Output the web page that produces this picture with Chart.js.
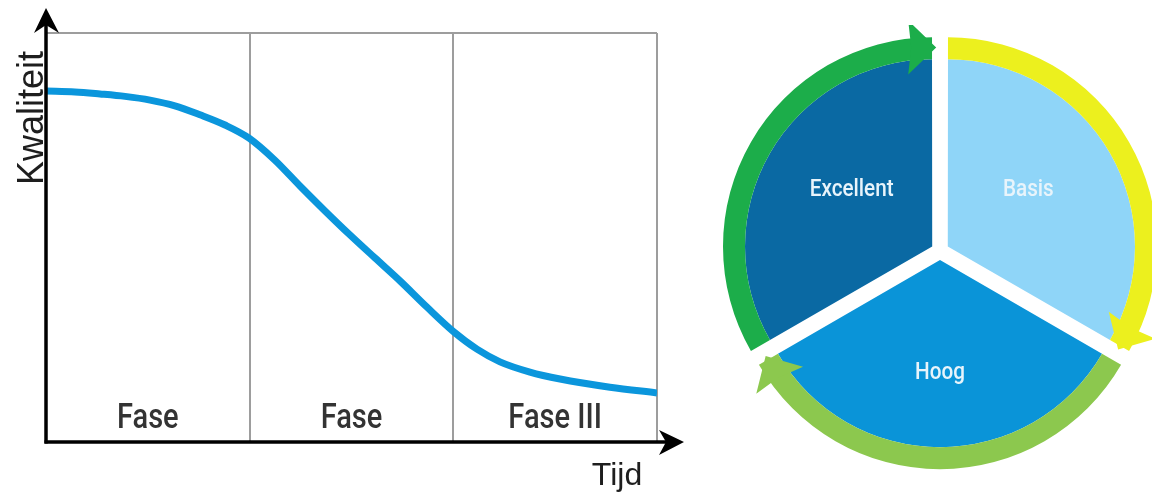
<!DOCTYPE html>
<html>
<head>
<meta charset="utf-8">
<script src="https://cdn.jsdelivr.net/npm/chart.js@4/dist/chart.umd.min.js"></script>
<style>
  html, body { margin: 0; padding: 0; background: #fff; width: 1152px; height: 497px; overflow: hidden; }
  #left  { position: absolute; left: 0; top: 0; width: 700px; height: 497px; }
  #right { position: absolute; left: 714px; top: 25px; width: 452px; height: 452px; }
</style>
</head>
<body>
<div id="left"><canvas id="qualityChart"></canvas></div>
<div id="right"><canvas id="levelChart"></canvas></div>
<script>
// Quality over time, split into three phases
const timePoints    = [0, 1.42, 2.65, 3.88, 5.11, 6.33, 7.56, 8.79, 9.97, 11.24, 12.47, 13.7,
                       14.93, 16.15, 17.38, 18.7, 20.03, 21.16, 22.29, 23.76, 25.24, 27.69, 30];
const qualityValues = [85.8, 85.6, 85.1, 84.5, 83.6, 82.2, 80.0, 77.5, 74.3, 68.9, 62.6, 56.5,
                       50.6, 45.0, 39.4, 33.0, 26.9, 22.7, 19.6, 17.1, 15.4, 13.4, 12.0];
const phaseBounds   = [0, 10, 20, 30];
const phaseLabels   = ['Fase', 'Fase', 'Fase III'];
const yAxisTitle    = 'Kwaliteit';
const xAxisTitle    = 'Tijd';

// Quality levels cycle (clockwise from the top)
const levelLabels = ['Basis', 'Hoog', 'Excellent'];
const levelShares = [1, 1, 1];
const levelColors = ['#8fd5f8', '#0a94d8', '#0a69a3'];
const cycleColors = ['#ecf01e', '#8cc84e', '#1cad4a'];

const condFont  = 'Roboto, "DejaVu Sans", sans-serif';
const plainFont = '"Liberation Sans", Arial, sans-serif';

// Text squeezed horizontally to get a condensed face
function condensedText(ctx, text, x, y, squeeze) {
  ctx.save();
  ctx.translate(x, y);
  ctx.scale(squeeze, 1);
  ctx.fillText(text, 0, 0);
  ctx.restore();
}

// Black axes with arrow heads, phase captions and axis titles
const axesPlugin = {
  id: 'axesDecor',
  afterDraw(chart) {
    const { ctx, chartArea: a, scales } = chart;
    ctx.save();
    ctx.strokeStyle = '#000';
    ctx.fillStyle = '#000';
    ctx.lineWidth = 3.5;
    ctx.lineCap = 'butt';
    // y axis
    ctx.beginPath();
    ctx.moveTo(a.left, a.bottom + 1.5);
    ctx.lineTo(a.left, a.top - 10);
    ctx.stroke();
    ctx.beginPath();
    ctx.moveTo(a.left, a.top - 25);
    ctx.lineTo(a.left + 13, a.top);
    ctx.lineTo(a.left, a.top - 8);
    ctx.lineTo(a.left - 12, a.top);
    ctx.closePath();
    ctx.fill();
    // x axis
    ctx.beginPath();
    ctx.moveTo(a.left - 1.5, a.bottom);
    ctx.lineTo(a.right + 14, a.bottom);
    ctx.stroke();
    ctx.beginPath();
    ctx.moveTo(a.right + 27, a.bottom);
    ctx.lineTo(a.right + 2, a.bottom - 12);
    ctx.lineTo(a.right + 9, a.bottom);
    ctx.lineTo(a.right + 2, a.bottom + 13);
    ctx.closePath();
    ctx.fill();

    // phase captions
    const xs = scales.x;
    ctx.fillStyle = '#333';
    ctx.font = '500 35px ' + condFont;
    ctx.textAlign = 'center';
    ctx.textBaseline = 'alphabetic';
    phaseLabels.forEach((lbl, i) => {
      const cx = (xs.getPixelForValue(phaseBounds[i]) + xs.getPixelForValue(phaseBounds[i + 1])) / 2;
      condensedText(ctx, lbl, cx, a.bottom - 14, 0.83);
    });

    // axis titles
    ctx.fillStyle = '#1e1e1e';
    ctx.font = '32px ' + plainFont;
    ctx.fillText(xAxisTitle, a.right - 40, a.bottom + 43);
    ctx.save();
    ctx.translate(a.left - 3, 118);
    ctx.rotate(-Math.PI / 2);
    ctx.font = '36px ' + plainFont;
    ctx.fillText(yAxisTitle, 0, 0);
    ctx.restore();
    ctx.restore();
  }
};

new Chart(document.getElementById('qualityChart'), {
  type: 'line',
  data: {
    datasets: [{
      data: timePoints.map((x, i) => ({ x, y: qualityValues[i] })),
      borderColor: '#0b96dc',
      borderWidth: 7,
      pointRadius: 0,
      cubicInterpolationMode: 'monotone',
      fill: false
    }]
  },
  options: {
    responsive: true,
    maintainAspectRatio: false,
    animation: false,
    events: [],
    layout: { padding: { left: 46, top: 33, right: 43, bottom: 55 } },
    plugins: { legend: { display: false }, tooltip: { enabled: false } },
    scales: {
      x: {
        type: 'linear', min: 0, max: 30,
        afterBuildTicks: s => { s.ticks = phaseBounds.map(v => ({ value: v })); },
        ticks: { display: false },
        grid: { color: '#9d9d9d', lineWidth: 2, drawTicks: false },
        border: { display: false }
      },
      y: {
        min: 0, max: 100,
        afterBuildTicks: s => { s.ticks = [{ value: 0 }, { value: 100 }]; },
        ticks: { display: false },
        grid: {
          color: c => (c.tick && c.tick.value === 100) ? '#9d9d9d' : 'rgba(0,0,0,0)',
          lineWidth: 2, drawTicks: false
        },
        border: { display: false }
      }
    }
  },
  plugins: [axesPlugin]
});

// Arrow heads at the clockwise end of each outer ring arc, and level names
const cyclePlugin = {
  id: 'cycleDecor',
  afterDatasetsDraw(chart) {
    const { ctx } = chart;
    ctx.save();
    const ring = chart.getDatasetMeta(0);
    ring.data.forEach((arc, i) => {
      const p = arc.getProps(['x', 'y', 'startAngle', 'endAngle', 'innerRadius', 'outerRadius']);
      const shift = (arc.options.offset || 0) / 4;
      const mid = (p.startAngle + p.endAngle) / 2;
      const cx = p.x + Math.cos(mid) * shift;
      const cy = p.y + Math.sin(mid) * shift;
      const e = p.endAngle;
      const nx = Math.cos(e), ny = Math.sin(e);
      const tx = -ny, ty = nx;
      const rm = (p.innerRadius + p.outerRadius) / 2 + 2;
      const tipX = cx + rm * nx + tx * 4, tipY = cy + rm * ny + ty * 4;
      const L = 28, H = 27;
      const bx = tipX - tx * L, by = tipY - ty * L;
      ctx.fillStyle = cycleColors[i];
      ctx.beginPath();
      ctx.moveTo(tipX, tipY);
      ctx.lineTo(bx + nx * H, by + ny * H);
      ctx.lineTo(bx + tx * 3, by + ty * 3);
      ctx.lineTo(bx - nx * H, by - ny * H);
      ctx.closePath();
      ctx.fill();
    });

    const pie = chart.getDatasetMeta(1);
    ctx.fillStyle = '#e8f4fb';
    ctx.font = '500 23px ' + condFont;
    ctx.textAlign = 'center';
    ctx.textBaseline = 'middle';
    pie.data.forEach((arc, i) => {
      const p = arc.getProps(['x', 'y', 'startAngle', 'endAngle', 'outerRadius']);
      const shift = (arc.options.offset || 0) / 4;
      const mid = (p.startAngle + p.endAngle) / 2;
      const lx = p.x + Math.cos(mid) * (shift + p.outerRadius * 0.5);
      const ly = p.y + Math.sin(mid) * (shift + p.outerRadius * 0.61);
      condensedText(ctx, levelLabels[i], lx, ly, 0.9);
    });
    ctx.restore();
  }
};

new Chart(document.getElementById('levelChart'), {
  type: 'pie',
  data: {
    labels: levelLabels,
    datasets: [
      { data: levelShares, backgroundColor: cycleColors, weight: 22, borderWidth: 0, offset: 36, hoverOffset: 0 },
      { data: levelShares, backgroundColor: levelColors, weight: 186, borderWidth: 0, offset: 36, hoverOffset: 0 }
    ]
  },
  options: {
    responsive: true,
    maintainAspectRatio: false,
    animation: false,
    events: [],
    layout: { padding: 0 },
    plugins: { legend: { display: false }, tooltip: { enabled: false } }
  },
  plugins: [cyclePlugin]
});
</script>
</body>
</html>
